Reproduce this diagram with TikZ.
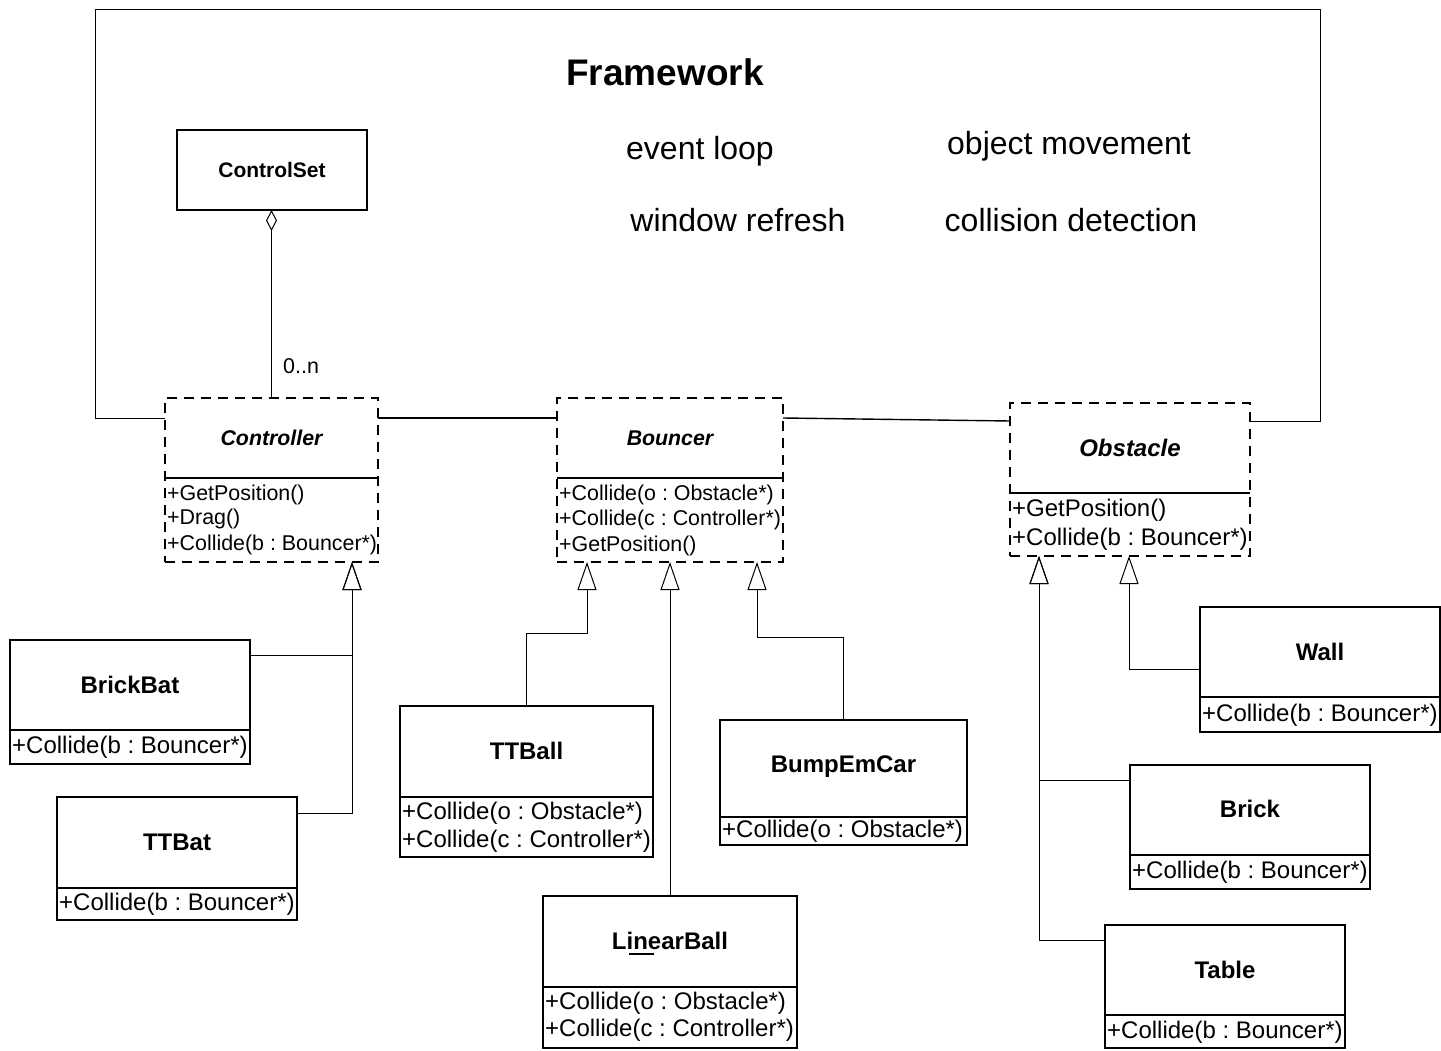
\documentclass[tikz,border=0pt]{standalone}
\usepackage{fontspec}
\setmainfont{Liberation Sans}
\usetikzlibrary{arrows.meta,calc}
\tikzset{
 cls/.style={draw, line width=1.6pt, inner sep=0pt, outer sep=0pt},
 acls/.style={cls, dash pattern=on 10pt off 7pt},
 ttl/.style={font=\fontsize{24}{28}\selectfont\bfseries, inner sep=0pt},
 sttl/.style={font=\fontsize{21.3}{25}\selectfont\bfseries\itshape, inner sep=0pt},
 attl/.style={font=\fontsize{24}{28}\selectfont\bfseries\itshape, inner sep=0pt},
 op/.style={font=\fontsize{24}{28}\selectfont, anchor=west, inner sep=0pt},
 sop/.style={font=\fontsize{21.4}{25}\selectfont, anchor=west, inner sep=0pt},
 div/.style={line width=1.6pt},
 gen/.style={line width=1pt, -{Triangle[open,length=28pt,width=19pt,line width=1pt]}},
 conn/.style={line width=1pt},
 free/.style={font=\fontsize{32}{38}\selectfont, inner sep=0pt},
}
\begin{document}
\frenchspacing
\begin{tikzpicture}[x=1pt,y=-1pt]
\useasboundingbox (0,0) rectangle (1441,1051);

% ---------- classes ----------
\node[cls, minimum width=190pt, minimum height=80pt] (ControlSet) at (272,170) {};
\node[font=\fontsize{21}{25}\selectfont\bfseries, inner sep=0pt] (ControlSetT) at (ControlSet) {ControlSet};

% Controller
\node[acls, minimum width=213pt, minimum height=164pt] (Controller) at (271.5,480) {};
\draw[div] ($(Controller.north west)+(0,80)$) -- ($(Controller.north east)+(0,80)$);
\node[sttl] (ControllerT) at ($(Controller.north)+(0,40)$) {Controller};
\node[sop] (ControllerO1) at ($(Controller.north west)+(2,97)$) {+GetPosition()};
\node[sop] (ControllerO2) at ($(Controller.north west)+(2,121)$) {+Drag()};
\node[sop] (ControllerO3) at ($(Controller.north west)+(2,147)$) {+Collide(b : Bouncer*)};

% Bouncer
\node[acls, minimum width=226pt, minimum height=164pt] (Bouncer) at (670,480) {};
\draw[div] ($(Bouncer.north west)+(0,80)$) -- ($(Bouncer.north east)+(0,80)$);
\node[sttl] (BouncerT) at ($(Bouncer.north)+(0,40)$) {Bouncer};
\node[sop] (BouncerO1) at ($(Bouncer.north west)+(2,97)$) {+Collide(o : Obstacle*)};
\node[sop] (BouncerO2) at ($(Bouncer.north west)+(2,122)$) {+Collide(c : Controller*)};
\node[sop] (BouncerO3) at ($(Bouncer.north west)+(2,148)$) {+GetPosition()};

% Obstacle
\node[acls, minimum width=240pt, minimum height=153pt] (Obstacle) at (1130,479.5) {};
\draw[div] ($(Obstacle.north west)+(0,90)$) -- ($(Obstacle.north east)+(0,90)$);
\node[attl] (ObstacleT) at ($(Obstacle.north)+(0,45)$) {Obstacle};
\node[op] (ObstacleO1) at ($(Obstacle.north west)+(2,107)$) {+GetPosition()};
\node[op] (ObstacleO2) at ($(Obstacle.north west)+(2,136)$) {+Collide(b : Bouncer*)};

% BrickBat
\node[cls, minimum width=240pt, minimum height=124pt] (BrickBat) at (130,702) {};
\draw[div] ($(BrickBat.north west)+(0,90)$) -- ($(BrickBat.north east)+(0,90)$);
\node[ttl] (BrickBatT) at ($(BrickBat.north)+(0,45)$) {BrickBat};
\node[op] (BrickBatO1) at ($(BrickBat.north west)+(2,107)$) {+Collide(b : Bouncer*)};

% TTBat
\node[cls, minimum width=240pt, minimum height=123pt] (TTBat) at (177,858.5) {};
\draw[div] ($(TTBat.north west)+(0,91)$) -- ($(TTBat.north east)+(0,91)$);
\node[ttl] (TTBatT) at ($(TTBat.north)+(0,45)$) {TTBat};
\node[op] (TTBatO1) at ($(TTBat.north west)+(2,107)$) {+Collide(b : Bouncer*)};

% TTBall
\node[cls, minimum width=253pt, minimum height=151pt] (TTBall) at (526.5,781.5) {};
\draw[div] ($(TTBall.north west)+(0,91)$) -- ($(TTBall.north east)+(0,91)$);
\node[ttl] (TTBallT) at ($(TTBall.north)+(0,45)$) {TTBall};
\node[op] (TTBallO1) at ($(TTBall.north west)+(2,107)$) {+Collide(o : Obstacle*)};
\node[op] (TTBallO2) at ($(TTBall.north west)+(2,135)$) {+Collide(c : Controller*)};

% LinearBall
\node[cls, minimum width=254pt, minimum height=152pt] (LinearBall) at (670,972) {};
\draw[div] ($(LinearBall.north west)+(0,91)$) -- ($(LinearBall.north east)+(0,91)$);
\node[ttl] (LinearBallT) at ($(LinearBall.north)+(0,45)$) {LinearBall};
\draw[line width=1.2pt] ($(LinearBall.north west)+(86,58)$) -- ($(LinearBall.north west)+(111,58)$);
\node[op] (LinearBallO1) at ($(LinearBall.north west)+(2,107)$) {+Collide(o : Obstacle*)};
\node[op] (LinearBallO2) at ($(LinearBall.north west)+(2,134)$) {+Collide(c : Controller*)};

% BumpEmCar
\node[cls, minimum width=247pt, minimum height=125pt] (BumpEmCar) at (843.5,782.5) {};
\draw[div] ($(BumpEmCar.north west)+(0,97)$) -- ($(BumpEmCar.north east)+(0,97)$);
\node[ttl] (BumpEmCarT) at ($(BumpEmCar.north)+(0,47)$) {BumpEmCar};
\node[op] (BumpEmCarO1) at ($(BumpEmCar.north west)+(2,111)$) {+Collide(o : Obstacle*)};

% Wall
\node[cls, minimum width=240pt, minimum height=125pt] (Wall) at (1320,669.5) {};
\draw[div] ($(Wall.north west)+(0,90)$) -- ($(Wall.north east)+(0,90)$);
\node[ttl] (WallT) at ($(Wall.north)+(0,45)$) {Wall};
\node[op] (WallO1) at ($(Wall.north west)+(2,108)$) {+Collide(b : Bouncer*)};

% Brick
\node[cls, minimum width=240pt, minimum height=124pt] (Brick) at (1250,827) {};
\draw[div] ($(Brick.north west)+(0,90)$) -- ($(Brick.north east)+(0,90)$);
\node[ttl] (BrickT) at ($(Brick.north)+(0,44)$) {Brick};
\node[op] (BrickO1) at ($(Brick.north west)+(2,107)$) {+Collide(b : Bouncer*)};

% Table
\node[cls, minimum width=240pt, minimum height=123pt] (Table) at (1225,986.5) {};
\draw[div] ($(Table.north west)+(0,90)$) -- ($(Table.north east)+(0,90)$);
\node[ttl] (TableT) at ($(Table.north)+(0,45)$) {Table};
\node[op] (TableO1) at ($(Table.north west)+(2,107)$) {+Collide(b : Bouncer*)};

% ---------- free texts ----------
\node[font=\fontsize{37}{44}\selectfont\bfseries, inner sep=0pt] (Framework) at (665,72) {Framework};
\node[free] (eventloop) at (700,151) {event loop};
\node[free] (objmove) at (1069,146) {object movement};
\node[free] (winref) at (738,220) {window refresh};
\node[free] (colldet) at (1071,220) {collision detection};

% ---------- framework frame ----------
\draw[line width=1pt] ([yshift=-20pt]Controller.north west) -- (95,418) -- (95,10) -- (1320,10) -- (1320,421) -- ([yshift=-18pt]Obstacle.north east);

% ---------- associations ----------
\draw[line width=1.4pt] ([yshift=-20pt]Controller.north east) -- ([yshift=-20pt]Bouncer.north west);
\draw[line width=1.4pt] ([yshift=-20pt]Bouncer.north east) -- ([yshift=-18pt]Obstacle.north west);
\draw[conn, -{Diamond[open,length=21pt,width=11pt,line width=1pt]}] (Controller.north) -- (Controller.north |- ControlSet.south);
\node[sop] (mult) at (283,366) {0..n};

% ---------- generalizations ----------
\coordinate (cT) at (352,562);
\coordinate (bT1) at (587,562);
\coordinate (bT2) at (670,562);
\coordinate (bT3) at (757,562);
\coordinate (oT1) at (1039,556);
\coordinate (oT2) at (1129,556);

\draw[gen] ([yshift=-15pt]BrickBat.north east) -| (cT);
\draw[gen] ([yshift=-16pt]TTBat.north east) -| (cT);

\draw[gen] (TTBall.north) -- ++(0,-73) -| (bT1);
\draw[gen] (LinearBall.north) -- (bT2);
\draw[gen] (BumpEmCar.north) -- ++(0,-83) -| (bT3);

\draw[gen] ([yshift=-62pt]Wall.north west) -| (oT2);
\draw[gen] ([yshift=-15pt]Brick.north west) -| (oT1);
\draw[gen] ([yshift=-15pt]Table.north west) -| (oT1);
\end{tikzpicture}
\end{document}
